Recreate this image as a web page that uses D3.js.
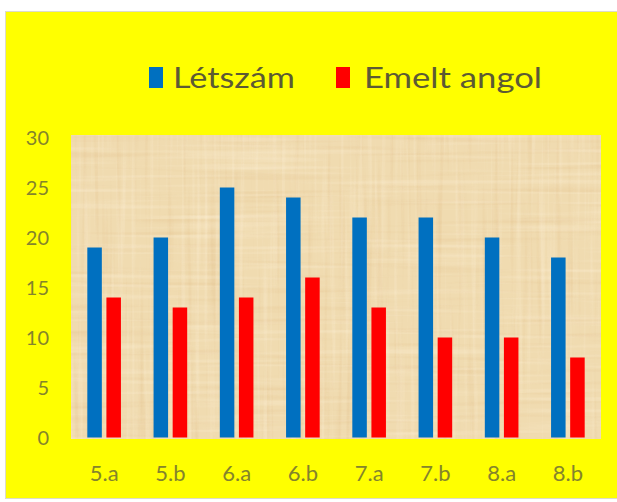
<!DOCTYPE html>
<html>
<head>
<meta charset="utf-8">
<script src="https://cdn.jsdelivr.net/npm/d3@7"></script>
<style>
  html, body { margin: 0; padding: 0; background: #ffffff; }
  svg { display: block; }
</style>
</head>
<body>
<svg id="chart" width="617" height="502"></svg>
<script>
const categories = ["5.a", "5.b", "6.a", "6.b", "7.a", "7.b", "8.a", "8.b"];
const seriesNames = ["Létszám", "Emelt angol"];
const letszam = [19, 20, 25, 24, 22, 22, 20, 18];
const emeltAngol = [14, 13, 14, 16, 13, 10, 10, 8];
const yTicks = [0, 5, 10, 15, 20, 25, 30];
const colors = ["#0070c0", "#ff0000"];

const seriesValues = [letszam, emeltAngol];
const rows = categories.map((c, i) => ({ cat: c, values: seriesValues.map(s => s[i]) }));

const svg = d3.select("#chart");
const W = 617, H = 502;
const plot = { left: 71, right: 601, top: 135, bottom: 439 };

// outer yellow frame
svg.append("rect").attr("x", 5.5).attr("y", 11.5).attr("width", W).attr("height", 487)
  .attr("fill", "#ffff00").attr("stroke", "#dcdcc8").attr("stroke-width", 1);

// papyrus texture defs
const defs = svg.append("defs");
function streakFilter(id, fx, fy, seed, light) {
  const f = defs.append("filter").attr("id", id)
    .attr("filterUnits", "userSpaceOnUse")
    .attr("x", plot.left).attr("y", plot.top)
    .attr("width", plot.right - plot.left).attr("height", plot.bottom - plot.top)
    .attr("color-interpolation-filters", "sRGB");
  f.append("feTurbulence").attr("type", "fractalNoise")
    .attr("baseFrequency", fx + " " + fy).attr("numOctaves", 2).attr("seed", seed).attr("result", "n");
  f.append("feColorMatrix").attr("in", "n").attr("type", "matrix")
    .attr("values", light
      ? "0 0 0 0 1  0 0 0 0 0.96  0 0 0 0 0.88  1.6 0 0 0 -0.8"
      : "0 0 0 0 0.86  0 0 0 0 0.70  0 0 0 0 0.48  -1.4 0 0 0 0.64");
}
streakFilter("vLight", 0.22, 0.006, 3, true);
streakFilter("vDark", 0.18, 0.006, 7, false);
streakFilter("hLight", 0.006, 0.2, 11, true);
streakFilter("hDark", 0.006, 0.16, 5, false);

const pw = plot.right - plot.left, ph = plot.bottom - plot.top;
svg.append("rect").attr("x", plot.left).attr("y", plot.top).attr("width", pw).attr("height", ph)
  .attr("fill", "#f0dbb0");
["vDark", "hDark", "vLight", "hLight"].forEach(id => {
  svg.append("rect").attr("x", plot.left).attr("y", plot.top).attr("width", pw).attr("height", ph)
    .attr("fill", "#000").attr("filter", `url(#${id})`).attr("opacity", 0.5);
});

// scales
const x0 = d3.scaleBand().domain(categories).range([plot.left, plot.right])
  .paddingInner(0.4924).paddingOuter(0.2462);
const x1 = d3.scaleBand().domain(seriesNames).range([0, x0.bandwidth()]).paddingInner(0.24);
const y = d3.scaleLinear().domain([0, 30]).range([437.5, 137.5]);
const color = d3.scaleOrdinal().domain(seriesNames).range(colors);

// bars
const groups = svg.append("g").selectAll("g").data(rows).join("g")
  .attr("transform", d => `translate(${x0(d.cat)},0)`);
groups.selectAll("rect").data(d => seriesNames.map((s, k) => ({ s, v: d.values[k] }))).join("rect")
  .attr("x", d => x1(d.s)).attr("width", x1.bandwidth())
  .attr("y", d => y(d.v)).attr("height", d => y(0) - y(d.v))
  .attr("fill", d => color(d.s));

// y axis
const yAxis = svg.append("g").attr("transform", "translate(49,0)")
  .call(d3.axisLeft(y).tickValues(yTicks).tickSize(0).tickPadding(0));
yAxis.select(".domain").remove();
yAxis.selectAll("text").attr("font-family", "Lato, 'Open Sans', sans-serif")
  .attr("font-size", 20).attr("fill", "#84842c").attr("dy", "0.36em");

// x axis
const xAxis = svg.append("g").attr("transform", "translate(0,465)")
  .call(d3.axisBottom(x0).tickSize(0).tickPadding(0));
xAxis.select(".domain").remove();
xAxis.selectAll("text").attr("font-family", "Lato, 'Open Sans', sans-serif")
  .attr("font-size", 22).attr("fill", "#84842c").attr("dy", "0.74em");

// legend
const legendItems = [
  { name: seriesNames[0], sx: 149, tx: 173, tl: 122 },
  { name: seriesNames[1], sx: 336, tx: 364, tl: 178 }
];
const lg = svg.append("g");
legendItems.forEach(it => {
  lg.append("rect").attr("x", it.sx).attr("y", 67).attr("width", 14).attr("height", 21)
    .attr("fill", color(it.name));
  lg.append("text").attr("x", it.tx).attr("y", 88)
    .attr("font-family", "Lato, 'Open Sans', sans-serif").attr("font-size", 29)
    .attr("fill", "#5c5a34").attr("textLength", it.tl).attr("lengthAdjust", "spacingAndGlyphs")
    .text(it.name);
});
</script>
</body>
</html>
